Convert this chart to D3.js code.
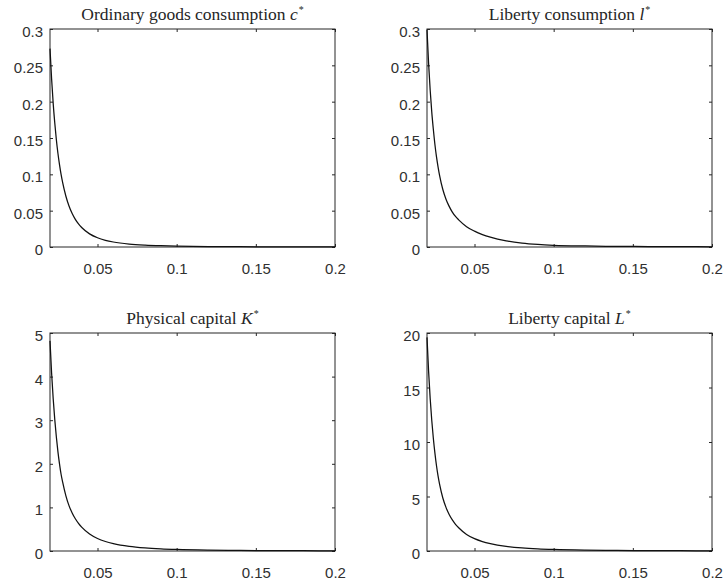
<!DOCTYPE html>
<html>
<head>
<meta charset="utf-8">
<script src="https://cdn.jsdelivr.net/npm/d3@7"></script>
<style>
  body { margin: 0; background: #fff; }
  .tick text { font-family: "Liberation Sans", Arial, sans-serif; font-size: 15px; fill: #303030; }
  .tick line { stroke: #262626; }
  .title { font-family: "Liberation Serif", "DejaVu Serif", serif; font-size: 17.5px; fill: #262626; }
</style>
</head>
<body>
<div id="container"></div>
<script>
/* DATA */
const xValues = [0.02, 0.021, 0.022, 0.023, 0.024, 0.025, 0.026, 0.027, 0.028, 0.03, 0.032, 0.034, 0.036, 0.038, 0.04,
  0.045, 0.05, 0.055, 0.06, 0.07, 0.08, 0.09, 0.1, 0.12, 0.14, 0.16, 0.18, 0.2];
const cValues = [0.273, 0.232, 0.198, 0.171, 0.148, 0.129, 0.1134, 0.0999, 0.0885, 0.0702, 0.0565, 0.0461, 0.0381, 0.0318, 0.0268,
  0.01805, 0.01268, 0.00921, 0.00688, 0.0041, 0.00263, 0.00177, 0.00124, 0.00067, 0.0004, 0.00026, 0.00017, 0.00012];
const lValues = [0.299, 0.253, 0.216, 0.186, 0.162, 0.141, 0.124, 0.110, 0.0978, 0.0791, 0.0658, 0.0559, 0.0481, 0.042, 0.0374,
  0.028, 0.0218, 0.0171, 0.0135, 0.00842, 0.00537, 0.00354, 0.00239, 0.00138, 0.00087, 0.00058, 0.00041, 0.0003];
const KValues = [4.82, 4.09, 3.50, 3.02, 2.62, 2.28, 2.00, 1.76, 1.58, 1.27, 1.04, 0.873, 0.739, 0.634, 0.547,
  0.39, 0.287, 0.218, 0.169, 0.1056, 0.0703, 0.0491, 0.0356, 0.0204, 0.0128, 0.0085, 0.0059, 0.0043];
const LValues = [19.6, 16.5, 14.0, 12.0, 10.35, 8.98, 7.82, 6.86, 6.08, 4.86, 4.0, 3.35, 2.85, 2.45, 2.13,
  1.52, 1.13, 0.868, 0.68, 0.429, 0.286, 0.2, 0.145, 0.083, 0.052, 0.0345, 0.0241, 0.0174];

const xTicks = [0.05, 0.1, 0.15, 0.2];
const cTicks = [0, 0.05, 0.1, 0.15, 0.2, 0.25, 0.3];
const lTicks = [0, 0.05, 0.1, 0.15, 0.2, 0.25, 0.3];
const KTicks = [0, 1, 2, 3, 4, 5];
const LTicks = [0, 5, 10, 15, 20];

const titles = [
  ["Ordinary goods consumption ", "c"],
  ["Liberty consumption ", "l"],
  ["Physical capital ", "K"],
  ["Liberty capital ", "L"]
];

/* CONSTANTS */
const width = 723, height = 581;
const cols = [50, 427], rows = [29, 333];
const pw = 285, ph = 218;

const svg = d3.select("#container")
  .append("svg")
  .attr("width", width)
  .attr("height", height);

const panels = [
  { col: 0, row: 0, values: cValues, ticks: cTicks, max: 0.3, title: titles[0] },
  { col: 1, row: 0, values: lValues, ticks: lTicks, max: 0.3, title: titles[1] },
  { col: 0, row: 1, values: KValues, ticks: KTicks, max: 5, title: titles[2] },
  { col: 1, row: 1, values: LValues, ticks: LTicks, max: 20, title: titles[3] }
];

panels.forEach(p => {
  const left = cols[p.col], top = rows[p.row];
  const g = svg.append("g").attr("transform", `translate(${left},${top})`);

  const xScale = d3.scaleLinear().domain([0.02, 0.2]).range([0, pw]);
  const yScale = d3.scaleLinear().domain([0, p.max]).range([ph, 0]);

  // bottom axis with labels
  g.append("g")
    .attr("transform", `translate(0,${ph})`)
    .call(d3.axisBottom(xScale).tickValues(xTicks).tickSize(-3).tickPadding(0).tickFormat(d => String(d)))
    .call(ax => ax.select(".domain").remove())
    .call(ax => ax.selectAll("text").attr("y", 16).attr("dy", "0.71em").attr("font-family", null).attr("font-size", null));

  // top ticks
  g.append("g")
    .call(d3.axisTop(xScale).tickValues(xTicks).tickSize(-3).tickFormat(""))
    .call(ax => ax.select(".domain").remove());

  // left axis with labels
  g.append("g")
    .call(d3.axisLeft(yScale).tickValues(p.ticks).tickSize(-3).tickPadding(0).tickFormat(d => String(d)))
    .call(ax => ax.select(".domain").remove())
    .call(ax => ax.selectAll("text").attr("x", -7).attr("dy", "0.5em").attr("font-family", null).attr("font-size", null));

  // right ticks
  g.append("g")
    .attr("transform", `translate(${pw},0)`)
    .call(d3.axisRight(yScale).tickValues(p.ticks).tickSize(-3).tickFormat(""))
    .call(ax => ax.select(".domain").remove());

  // box
  g.append("rect")
    .attr("x", 0).attr("y", 0)
    .attr("width", pw).attr("height", ph)
    .attr("fill", "none")
    .attr("stroke", "#262626")
    .attr("stroke-width", 1);

  // line
  const lineGen = d3.line()
    .x((d, i) => xScale(xValues[i]))
    .y(d => yScale(d))
    .curve(d3.curveMonotoneX);

  g.append("path")
    .datum(p.values)
    .attr("d", lineGen)
    .attr("fill", "none")
    .attr("stroke", "#111")
    .attr("stroke-width", 1.25);

  // title
  const t = g.append("text")
    .attr("class", "title")
    .attr("x", pw / 2)
    .attr("y", -9)
    .attr("text-anchor", "middle");
  t.append("tspan").text(p.title[0]);
  t.append("tspan").attr("font-style", "italic").text(p.title[1]);
  t.append("tspan").attr("font-size", "10px").attr("dy", "-7").attr("dx", "1").text("*");
});
</script>
</body>
</html>
